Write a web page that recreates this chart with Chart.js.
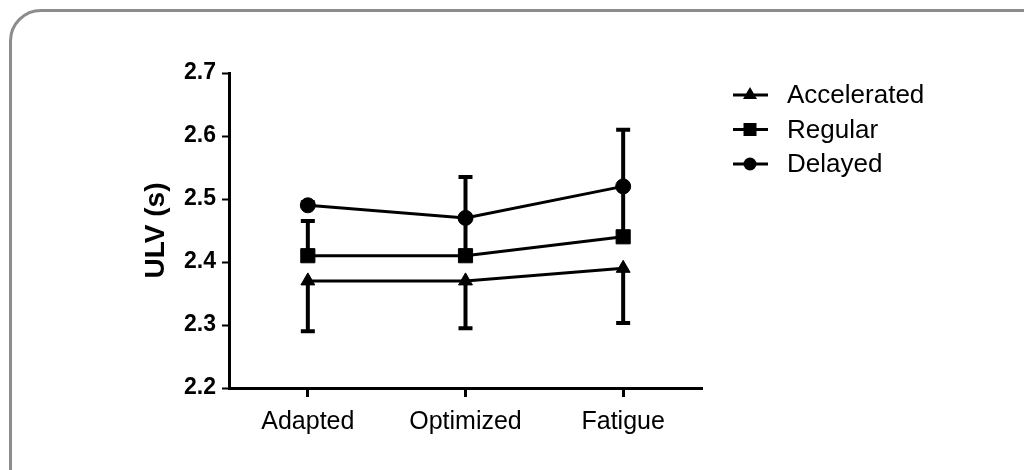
<!DOCTYPE html>
<html>
<head>
<meta charset="utf-8">
<script src="https://cdn.jsdelivr.net/npm/chart.js@4.4.0/dist/chart.umd.min.js"></script>
<style>
  html, body { margin: 0; padding: 0; background: #fff; }
  #wrap { position: relative; width: 1024px; height: 470px; overflow: hidden; }
  #frame {
    position: absolute; left: 9px; top: 9px; width: 1060px; height: 500px;
    border: 3px solid #8c8c8c; border-radius: 32px; box-sizing: border-box;
  }
  canvas { position: absolute; left: 0; top: 0; }
</style>
</head>
<body>
<div id="wrap">
  <div id="frame"></div>
  <canvas id="ulvChart" width="1024" height="470"></canvas>
</div>
<script>
// data
const categories = ["Adapted", "Optimized", "Fatigue"];
const seriesNames = ["Accelerated", "Regular", "Delayed"];
const acceleratedMean = [2.37, 2.37, 2.39];
const regularMean = [2.41, 2.41, 2.44];
const delayedMean = [2.49, 2.47, 2.52];
// one-sided error bars: value where each bar ends
const acceleratedErrEnd = [2.29, 2.295, 2.303];
const regularErrEnd = [2.465, 2.47, 2.52];
const delayedErrEnd = [2.495, 2.535, 2.61];
const yTicks = [2.2, 2.3, 2.4, 2.5, 2.6, 2.7];

const FONT = "'Liberation Sans', Arial, Helvetica, sans-serif";

// error bars drawn under the markers
const errorBarPlugin = {
  id: "errorBars",
  beforeDatasetsDraw(chart) {
    const ctx = chart.ctx;
    const yScale = chart.scales.y;
    ctx.save();
    ctx.strokeStyle = "#000";
    ctx.lineWidth = 4;
    chart.data.datasets.forEach((ds, i) => {
      const meta = chart.getDatasetMeta(i);
      meta.data.forEach((pt, j) => {
        const yA = yScale.getPixelForValue(ds.data[j]);
        const yB = yScale.getPixelForValue(ds.errEnd[j]);
        ctx.beginPath();
        ctx.moveTo(pt.x, yA);
        ctx.lineTo(pt.x, yB);
        ctx.moveTo(pt.x - 7, yB);
        ctx.lineTo(pt.x + 7, yB);
        ctx.stroke();
      });
    });
    ctx.restore();
  }
};

// legend with line + marker sample, like the original figure
const lineLegendPlugin = {
  id: "lineLegend",
  afterDraw(chart) {
    const ctx = chart.ctx;
    ctx.save();
    chart.data.datasets.forEach((ds, i) => {
      const y = 95 + i * 34.5;
      ctx.strokeStyle = "#000";
      ctx.lineWidth = 3;
      ctx.beginPath();
      ctx.moveTo(733, y);
      ctx.lineTo(768, y);
      ctx.stroke();
      ctx.fillStyle = "#000";
      ctx.beginPath();
      const cx = 750;
      if (ds.pointStyle === "triangle") {
        ctx.moveTo(cx, y - 8);
        ctx.lineTo(cx + 7, y + 4);
        ctx.lineTo(cx - 7, y + 4);
        ctx.closePath();
      } else if (ds.pointStyle === "rect") {
        ctx.rect(cx - 6.5, y - 6.5, 13, 13);
      } else {
        ctx.arc(cx, y, 6.5, 0, Math.PI * 2);
      }
      ctx.fill();
      ctx.font = "26px " + FONT;
      ctx.textBaseline = "middle";
      ctx.textAlign = "left";
      ctx.fillText(ds.label, 787, y + 1);
    });
    ctx.restore();
  }
};

function makeSeries(label, data, errEnd, style, radius) {
  return {
    label: label,
    data: data,
    errEnd: errEnd,
    borderColor: "#000",
    backgroundColor: "#000",
    borderWidth: 3,
    pointStyle: style,
    pointRadius: radius,
    pointHoverRadius: radius,
    pointBorderWidth: 1,
    pointBackgroundColor: "#000",
    pointBorderColor: "#000",
    tension: 0,
    fill: false
  };
}

new Chart(document.getElementById("ulvChart"), {
  type: "line",
  data: {
    labels: categories,
    datasets: [
      makeSeries(seriesNames[0], acceleratedMean, acceleratedErrEnd, "triangle", 8),
      makeSeries(seriesNames[1], regularMean, regularErrEnd, "rect", 10),
      makeSeries(seriesNames[2], delayedMean, delayedErrEnd, "circle", 7.5)
    ]
  },
  options: {
    responsive: false,
    animation: false,
    layout: { padding: { left: 130, top: 73, right: 322, bottom: 0 } },
    plugins: {
      legend: { display: false },
      tooltip: { enabled: false }
    },
    scales: {
      x: {
        offset: true,
        grid: {
          offset: false,
          drawOnChartArea: false,
          drawTicks: true,
          tickLength: 9,
          tickWidth: 3,
          tickColor: "#000"
        },
        border: { display: true, color: "#000", width: 3 },
        ticks: {
          color: "#000",
          padding: 10,
          font: { family: FONT, size: 25 }
        },
        afterFit(scale) { scale.height = 82; }
      },
      y: {
        min: 2.2,
        max: 2.7,
        afterBuildTicks(scale) {
          scale.ticks = yTicks.map(v => ({ value: v }));
        },
        grid: {
          drawOnChartArea: false,
          drawTicks: true,
          tickLength: 7,
          tickWidth: 2,
          tickColor: "#000"
        },
        border: { display: true, color: "#000", width: 3 },
        ticks: {
          color: "#000",
          padding: 6,
          font: { family: FONT, size: 23, weight: "bold" },
          callback: v => Number(v).toFixed(1)
        },
        title: {
          display: true,
          text: "ULV (s)",
          color: "#000",
          padding: { top: 9, bottom: 0 },
          font: { family: FONT, size: 28, weight: "bold" }
        },
        afterFit(scale) { scale.width = 99; }
      }
    }
  },
  plugins: [errorBarPlugin, lineLegendPlugin]
});
</script>
</body>
</html>
